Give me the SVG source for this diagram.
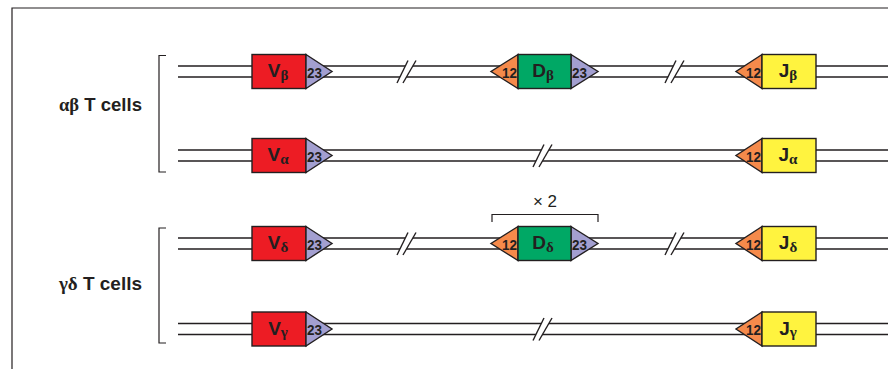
<svg xmlns="http://www.w3.org/2000/svg" width="888" height="369" viewBox="0 0 888 369">
<style>
.ln{stroke:#231f20;stroke-width:1.4;fill:none}
.fr{stroke:#231f20;stroke-width:1.2;fill:none}
.box{stroke:#231f20;stroke-width:1.4}
.v{fill:#ed1c24}.d{fill:#00a865}.j{fill:#fff33f}
.s23{fill:#a39fd0}.s12{fill:#f58a4b}
.nm{font-family:"Liberation Sans",Arial,sans-serif;font-weight:bold;font-size:19px;fill:#231f20}
.gk{font-family:"Liberation Serif","Times New Roman",serif;font-weight:bold;font-size:15px}
.rs{font-family:"Liberation Sans",Arial,sans-serif;font-weight:bold;font-size:15px;fill:#231f20}
.lb{font-family:"Liberation Sans",Arial,sans-serif;font-weight:bold;font-size:18.5px;fill:#231f20}
.lg{font-family:"Liberation Serif","Times New Roman",serif;font-weight:bold}
.x2{font-family:"Liberation Sans",Arial,sans-serif;font-size:17px;fill:#231f20}
</style>
<defs>
<g id="brk">
<polygon points="-10,11.5 1,-11 9,-11 -4,11.5" fill="#fff"/>
<line x1="-10" y1="11.5" x2="1" y2="-11" class="ln"/>
<line x1="-4" y1="11.5" x2="9" y2="-11" class="ln"/>
</g>
</defs>
<rect width="888" height="369" fill="#fff"/>
<path class="fr" d="M12,369 V8 H888"/>
<g id="labels">
<text class="lb" x="59" y="111" textLength="83" lengthAdjust="spacingAndGlyphs"><tspan class="lg">αβ</tspan> T cells</text>
<text class="lb" x="59" y="290" textLength="83" lengthAdjust="spacingAndGlyphs"><tspan class="lg">γδ</tspan> T cells</text>
<path class="fr" d="M166,55.5 H159 V172 H166"/>
<path class="fr" d="M166,228 H159 V343 H166"/>
</g>
<g id="connectors">
<path class="ln" d="M178,66 H888 M178,77 H888"/>
<path class="ln" d="M178,150 H888 M178,161 H888"/>
<path class="ln" d="M178,238 H888 M178,249 H888"/>
<path class="ln" d="M178,323.5 H888 M178,334.5 H888"/>
<use href="#brk" x="407" y="71.5"/>
<use href="#brk" x="675" y="71.5"/>
<use href="#brk" x="543" y="155.5"/>
<use href="#brk" x="407" y="243.5"/>
<use href="#brk" x="675" y="243.5"/>
<use href="#brk" x="543" y="329"/>
</g>
<g id="Vb">
<rect class="box v" x="252" y="54.5" width="54" height="34"/>
<polygon class="box s23" points="306,54.5 332,71.5 306,88.5"/>
<text class="nm" x="278" y="77" text-anchor="middle">V<tspan class="gk" dy="2.5">β</tspan></text>
<text class="rs" x="307" y="77.5" textLength="15" lengthAdjust="spacingAndGlyphs">23</text>
</g>
<g id="Db">
<polygon class="box s12" points="518,54.5 491,71.5 518,88.5"/>
<polygon class="box s23" points="571,54.5 598,71.5 571,88.5"/>
<rect class="box d" x="518" y="54.5" width="53" height="34"/>
<text class="nm" x="543" y="77" text-anchor="middle">D<tspan class="gk" dy="2.5">β</tspan></text>
<text class="rs" x="502" y="77.5" textLength="15" lengthAdjust="spacingAndGlyphs">12</text>
<text class="rs" x="572" y="77.5" textLength="15" lengthAdjust="spacingAndGlyphs">23</text>
</g>
<g id="Jb">
<polygon class="box s12" points="762,54.5 736,71.5 762,88.5"/>
<rect class="box j" x="762" y="54.5" width="54" height="34"/>
<text class="nm" x="788" y="77" text-anchor="middle">J<tspan class="gk" dy="2.5">β</tspan></text>
<text class="rs" x="746" y="77.5" textLength="15" lengthAdjust="spacingAndGlyphs">12</text>
</g>
<g id="Va">
<rect class="box v" x="252" y="138.5" width="54" height="34"/>
<polygon class="box s23" points="306,138.5 332,155.5 306,172.5"/>
<text class="nm" x="278" y="161" text-anchor="middle">V<tspan class="gk" dy="2.5">α</tspan></text>
<text class="rs" x="307" y="161.5" textLength="15" lengthAdjust="spacingAndGlyphs">23</text>
</g>
<g id="Ja">
<polygon class="box s12" points="762,138.5 736,155.5 762,172.5"/>
<rect class="box j" x="762" y="138.5" width="54" height="34"/>
<text class="nm" x="788" y="161" text-anchor="middle">J<tspan class="gk" dy="2.5">α</tspan></text>
<text class="rs" x="746" y="161.5" textLength="15" lengthAdjust="spacingAndGlyphs">12</text>
</g>
<g id="x2">
<text class="x2" x="545" y="207" text-anchor="middle">× 2</text>
<path class="fr" d="M492,222 V214.5 H598 V222"/>
</g>
<g id="Vd">
<rect class="box v" x="252" y="226.5" width="54" height="34"/>
<polygon class="box s23" points="306,226.5 332,243.5 306,260.5"/>
<text class="nm" x="278" y="249" text-anchor="middle">V<tspan class="gk" dy="2.5">δ</tspan></text>
<text class="rs" x="307" y="249.5" textLength="15" lengthAdjust="spacingAndGlyphs">23</text>
</g>
<g id="Dd">
<polygon class="box s12" points="518,226.5 491,243.5 518,260.5"/>
<polygon class="box s23" points="571,226.5 598,243.5 571,260.5"/>
<rect class="box d" x="518" y="226.5" width="53" height="34"/>
<text class="nm" x="543" y="249" text-anchor="middle">D<tspan class="gk" dy="2.5">δ</tspan></text>
<text class="rs" x="502" y="249.5" textLength="15" lengthAdjust="spacingAndGlyphs">12</text>
<text class="rs" x="572" y="249.5" textLength="15" lengthAdjust="spacingAndGlyphs">23</text>
</g>
<g id="Jd">
<polygon class="box s12" points="762,226.5 736,243.5 762,260.5"/>
<rect class="box j" x="762" y="226.5" width="54" height="34"/>
<text class="nm" x="788" y="249" text-anchor="middle">J<tspan class="gk" dy="2.5">δ</tspan></text>
<text class="rs" x="746" y="249.5" textLength="15" lengthAdjust="spacingAndGlyphs">12</text>
</g>
<g id="Vg">
<rect class="box v" x="252" y="312" width="54" height="34"/>
<polygon class="box s23" points="306,312 332,329 306,346"/>
<text class="nm" x="278" y="334.5" text-anchor="middle">V<tspan class="gk" dy="2.5">γ</tspan></text>
<text class="rs" x="307" y="335" textLength="15" lengthAdjust="spacingAndGlyphs">23</text>
</g>
<g id="Jg">
<polygon class="box s12" points="762,312 736,329 762,346"/>
<rect class="box j" x="762" y="312" width="54" height="34"/>
<text class="nm" x="788" y="334.5" text-anchor="middle">J<tspan class="gk" dy="2.5">γ</tspan></text>
<text class="rs" x="746" y="335" textLength="15" lengthAdjust="spacingAndGlyphs">12</text>
</g>
</svg>
